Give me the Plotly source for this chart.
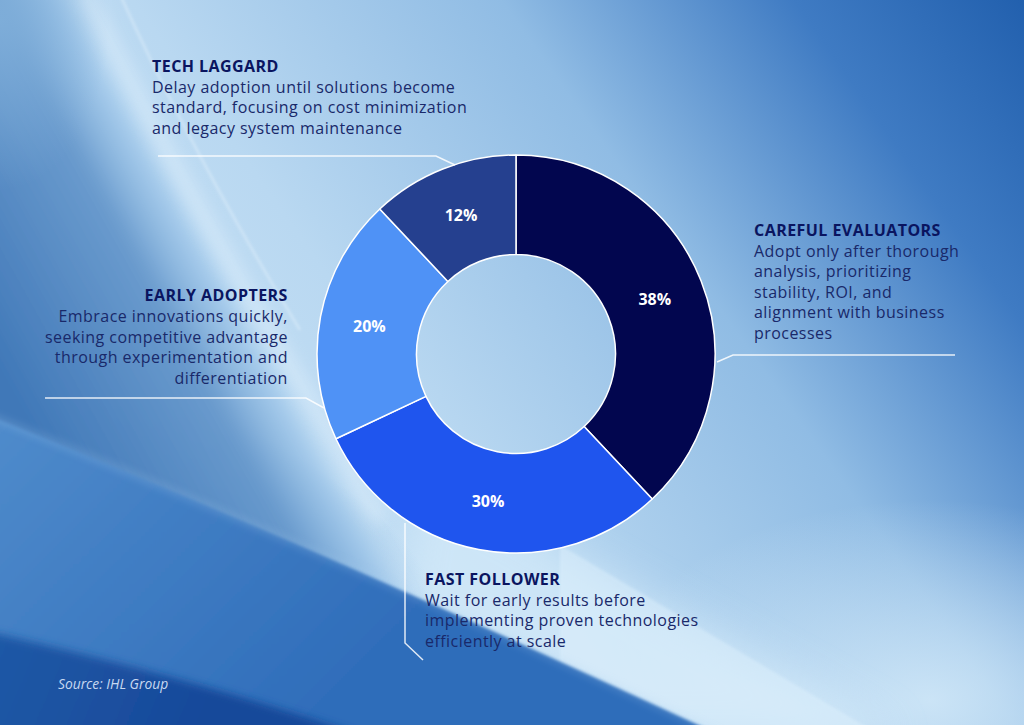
import base64
import plotly.graph_objects as go

W, H = 1024, 725

# ---- data ----
segments = ["Careful Evaluators", "Fast Follower", "Early Adopters", "Tech Laggard"]
shares = [38, 30, 20, 12]
slice_colors = ["#02064f", "#1f55ee", "#4f92f6", "#25408f"]

titles = ["CAREFUL EVALUATORS", "FAST FOLLOWER", "EARLY ADOPTERS", "TECH LAGGARD"]
descriptions = [
    ["Adopt only after thorough", "analysis, prioritizing", "stability, ROI, and",
     "alignment with business", "processes"],
    ["Wait for early results before", "implementing proven technologies",
     "efficiently at scale"],
    ["Embrace innovations quickly,", "seeking competitive advantage",
     "through experimentation and", "differentiation"],
    ["Delay adoption until solutions become", "standard, focusing on cost minimization",
     "and legacy system maintenance"],
]
source_text = "Source: IHL Group"

# ---- layout helpers (pixel -> paper) ----
def px(x):
    return x / W

def py(y):
    return 1 - y / H

# label placement: (x, first-line y, last-line y, anchor)
label_pos = [
    (752, 230, 333, "left"),
    (423, 579, 641, "left"),
    (290, 295, 378, "right"),
    (150, 66, 128, "left"),
]
leader_paths = [
    [(717, 362), (733, 355), (955, 355)],
    [(405, 523), (405, 643), (423, 660)],
    [(45, 398), (306, 398), (324, 408)],
    [(158, 156), (436, 156), (455, 165)],
]
label_style = "font-size:16px;letter-spacing:0.45px"

# ---- decorative background as an SVG image ----
bg_svg = f'''<svg xmlns="http://www.w3.org/2000/svg" width="{W}" height="{H}" viewBox="0 0 {W} {H}">
<defs>
<linearGradient id="base" x1="0" y1="725" x2="1024" y2="0" gradientUnits="userSpaceOnUse">
<stop offset="0" stop-color="#d8ecfa"/>
<stop offset="0.42" stop-color="#b9d8f1"/>
<stop offset="0.66" stop-color="#90bce4"/>
<stop offset="0.85" stop-color="#3f7bc3"/>
<stop offset="1" stop-color="#2260ae"/>
</linearGradient>
<linearGradient id="leftg" x1="215" y1="250" x2="0" y2="370" gradientUnits="userSpaceOnUse">
<stop offset="0" stop-color="#b5d6f1" stop-opacity="0"/>
<stop offset="0.06" stop-color="#9cc5e9" stop-opacity="0.7"/>
<stop offset="0.3" stop-color="#6597cb" stop-opacity="0.95"/>
<stop offset="1" stop-color="#4078b8" stop-opacity="1"/>
</linearGradient>
<linearGradient id="sw1" x1="0" y1="420" x2="300" y2="725" gradientUnits="userSpaceOnUse">
<stop offset="0" stop-color="#4f8bcb"/>
<stop offset="1" stop-color="#2f6dba"/>
</linearGradient>
<linearGradient id="sw2" x1="0" y1="640" x2="200" y2="725" gradientUnits="userSpaceOnUse">
<stop offset="0" stop-color="#1f58a6"/>
<stop offset="1" stop-color="#17499a"/>
</linearGradient>
<radialGradient id="glow" cx="0.5" cy="0.5" r="0.5">
<stop offset="0" stop-color="#d4eaf9" stop-opacity="0.85"/>
<stop offset="1" stop-color="#d4eaf9" stop-opacity="0"/>
</radialGradient>
<radialGradient id="midblue" cx="0.5" cy="0.5" r="0.5">
<stop offset="0" stop-color="#78aad9" stop-opacity="0.85"/>
<stop offset="1" stop-color="#78aad9" stop-opacity="0"/>
</radialGradient>
<radialGradient id="corner" cx="0.5" cy="0.5" r="0.5">
<stop offset="0" stop-color="#80afda" stop-opacity="0.9"/>
<stop offset="1" stop-color="#80afda" stop-opacity="0"/>
</radialGradient>
<filter id="b20" x="-30%" y="-30%" width="160%" height="160%"><feGaussianBlur stdDeviation="20"/></filter>
<filter id="b8" x="-20%" y="-20%" width="140%" height="140%"><feGaussianBlur stdDeviation="8"/></filter>
<filter id="b4" x="-20%" y="-20%" width="140%" height="140%"><feGaussianBlur stdDeviation="4"/></filter>
<filter id="b2" x="-20%" y="-20%" width="140%" height="140%"><feGaussianBlur stdDeviation="1.5"/></filter>
</defs>
<rect x="0" y="0" width="{W}" height="{H}" fill="url(#base)"/>
<ellipse cx="930" cy="700" rx="330" ry="200" fill="url(#glow)"/>
<path d="M420,470 L900,735 L380,735 Z" fill="#dcf0fc" opacity="0.55" filter="url(#b20)"/>
<path d="M560,545 L880,735 L560,735 Z" fill="#e0f2fd" opacity="0.45" filter="url(#b2)"/>
<ellipse cx="230" cy="520" rx="230" ry="90" transform="rotate(28 230 520)" fill="url(#midblue)"/>
<path d="M-60,-60 L70,-60 Q170,170 335,440 L430,600 L-60,600 Z" fill="url(#leftg)" filter="url(#b8)"/>
<ellipse cx="0" cy="20" rx="110" ry="170" fill="url(#corner)"/>
<path d="M85,-10 Q170,170 335,440 L380,520" stroke="#eaf6fe" stroke-width="14" fill="none" opacity="0.45" filter="url(#b8)"/>
<path d="M118,-10 Q190,150 300,330" stroke="#f2faff" stroke-width="2" fill="none" opacity="0.45" filter="url(#b2)"/>
<path d="M-20,412 Q300,540 720,735 L-20,735 Z" fill="url(#sw1)" filter="url(#b2)"/>
<path d="M-20,412 Q300,540 720,735" stroke="#a6cdf0" stroke-width="3" fill="none" opacity="0.5" filter="url(#b4)"/>
<path d="M-20,630 Q200,680 360,735 L-20,735 Z" fill="url(#sw2)" filter="url(#b4)"/>
</svg>'''
bg_uri = "data:image/svg+xml;base64," + base64.b64encode(bg_svg.encode("utf-8")).decode("ascii")

# ---- figure ----
cx, cy, r = 516, 354, 199
fig = go.Figure()
fig.add_trace(go.Pie(
    labels=segments,
    values=shares,
    hole=0.5,
    sort=False,
    direction="clockwise",
    rotation=0,
    marker=dict(colors=slice_colors, line=dict(color="#ffffff", width=1.5)),
    texttemplate="<b>%{value}%</b>",
    textposition="inside",
    insidetextorientation="horizontal",
    textfont=dict(family="Open Sans", size=16, color="#ffffff"),
    hoverinfo="none",
    showlegend=False,
    domain=dict(x=[px(cx - r), px(cx + r)], y=[py(cy + r), py(cy - r)]),
))

annotations = []
for title, desc, (x, y0, y1, anchor) in zip(titles, descriptions, label_pos):
    n = len(desc) + 1
    step = (y1 - y0) / (n - 1)
    base_size = step / 1.3  # plotly line spacing = 1.3 x base font size
    text = (f"<span style='{label_style};color:#0a1560'><b>{title}</b></span><br>"
            + "<br>".join(f"<span style='{label_style}'>{d}</span>" for d in desc))
    annotations.append(dict(
        x=px(x), y=py((y0 + y1) / 2), xref="paper", yref="paper",
        xanchor=anchor, yanchor="middle", align=anchor, showarrow=False,
        text=text, font=dict(family="Open Sans", size=base_size, color="#19296a"),
    ))
annotations.append(dict(
    x=px(56), y=py(683), xref="paper", yref="paper", xanchor="left",
    yanchor="middle", showarrow=False, text=f"<i>{source_text}</i>",
    font=dict(family="Open Sans", size=13.8, color="#c8d9f1"),
))

shapes = []
for pts in leader_paths:
    d = "M " + " L ".join(f"{px(x):.5f},{py(y):.5f}" for x, y in pts)
    shapes.append(dict(type="path", path=d, xref="paper", yref="paper",
                       line=dict(color="rgba(255,255,255,0.85)", width=1.5)))

fig.update_layout(
    width=W, height=H, margin=dict(l=0, r=0, t=0, b=0),
    paper_bgcolor="#a9cdec", plot_bgcolor="rgba(0,0,0,0)",
    annotations=annotations, shapes=shapes,
    images=[dict(source=bg_uri, xref="paper", yref="paper", x=0, y=1,
                 sizex=1, sizey=1, xanchor="left", yanchor="top",
                 sizing="stretch", layer="below")],
)

fig.write_html("out.html", config={"displayModeBar": False},
               post_script="document.body.style.margin='0';")
